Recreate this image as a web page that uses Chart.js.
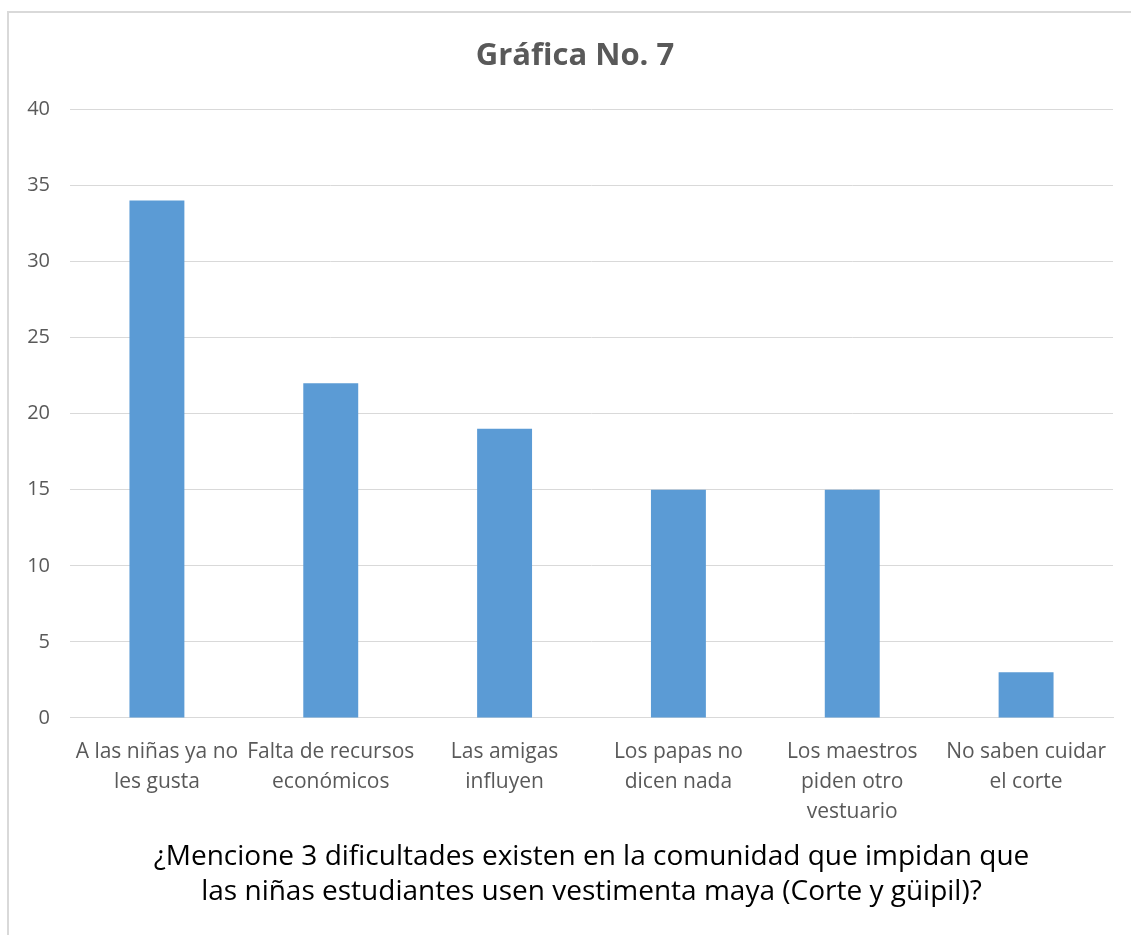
<!DOCTYPE html>
<html>
<head>
<meta charset="utf-8">
<script src="https://cdn.jsdelivr.net/npm/chart.js@4"></script>
<style>
  body { margin: 0; background: #fff; }
  #wrap { position: relative; width: 1131px; height: 935px; overflow: hidden; }
  #frame { position: absolute; left: 7px; top: 11px; width: 1200px; height: 1000px;
           border-left: 2px solid #d9d9d9; border-top: 2px solid #d9d9d9; }
  canvas { position: absolute; left: 0; top: 0; }
</style>
</head>
<body>
<div id="wrap">
  <div id="frame"></div>
  <canvas id="barChart" width="1131" height="935"></canvas>
</div>
<script>
// Datos de la gráfica
const categorias = [
    ['A las niñas ya no', 'les gusta'],
    ['Falta de recursos', 'económicos'],
    ['Las amigas', 'influyen'],
    ['Los papas no', 'dicen nada'],
    ['Los maestros', 'piden otro', 'vestuario'],
    ['No saben cuidar', 'el corte']
];
const valores = [34, 22, 19, 15, 15, 3];
const ticksY = [0, 5, 10, 15, 20, 25, 30, 35, 40];
const titulo = 'Gráfica No. 7';
const tituloEje = [
    '¿Mencione 3 dificultades existen en la comunidad que impidan que',
    'las niñas estudiantes usen vestimenta maya (Corte y güipil)?'
];

const fuente = "'Open Sans', 'Noto Sans', sans-serif";

const ctx = document.getElementById('barChart').getContext('2d');
const barChart = new Chart(ctx, {
    type: 'bar',
    data: {
        labels: categorias,
        datasets: [{
            data: valores,
            backgroundColor: '#5b9bd5',
            barPercentage: 0.316,
            categoryPercentage: 1
        }]
    },
    options: {
        responsive: false,
        animation: false,
        layout: {
            padding: { left: 26, right: 7, top: 20, bottom: 25 }
        },
        plugins: {
            legend: { display: false },
            tooltip: { enabled: false },
            title: {
                display: true,
                text: titulo,
                color: '#595959',
                font: { family: fuente, size: 31, weight: 'bold' },
                padding: { top: 18, bottom: 34 }
            }
        },
        scales: {
            x: {
                grid: { display: false, drawTicks: false },
                border: { color: '#d9d9d9' },
                ticks: {
                    color: '#595959',
                    font: { family: fuente, size: 21, lineHeight: 1.4286 },
                    padding: 19,
                    maxRotation: 0,
                    autoSkip: false
                },
                title: {
                    display: true,
                    text: tituloEje,
                    color: '#000',
                    font: { family: fuente, size: 28, lineHeight: 1.25 },
                    padding: { top: -6, bottom: 0 }
                }
            },
            y: {
                min: 0,
                max: 40,
                afterBuildTicks: (axis) => {
                    axis.ticks = ticksY.map(v => ({ value: v }));
                },
                afterFit: (axis) => {
                    axis.width = 44;
                },
                grid: { color: '#d9d9d9', drawTicks: false },
                border: { display: false },
                ticks: {
                    color: '#595959',
                    font: { family: fuente, size: 20 },
                    padding: 20
                }
            },
            // eje vacío a la derecha, solo para dejar margen
            yDer: {
                position: 'right',
                min: 0,
                max: 40,
                grid: { display: false, drawTicks: false },
                border: { display: false },
                ticks: { display: false },
                afterFit: (axis) => {
                    axis.width = 11;
                }
            }
        }
    }
});
</script>
</body>
</html>
